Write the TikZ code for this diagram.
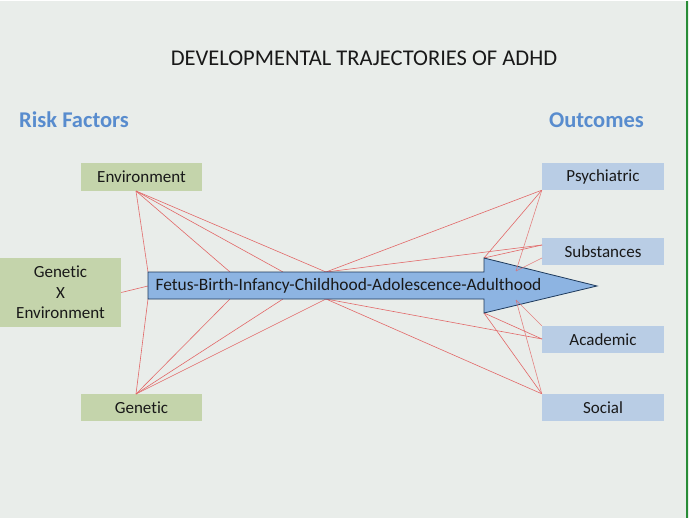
\documentclass[tikz,border=0pt]{standalone}
\usepackage{fontspec}
\setmainfont[Ligatures={NoCommon}]{Carlito}
\usepackage{tikz}
\usetikzlibrary{positioning}
\definecolor{slidebg}{RGB}{233,237,234}
\definecolor{riskgreen}{RGB}{196,212,171}
\definecolor{outblue}{RGB}{185,205,229}
\definecolor{headblue}{RGB}{88,140,206}
\definecolor{arrowfill}{RGB}{141,180,226}
\definecolor{arrowline}{RGB}{30,58,92}
\definecolor{linkred}{RGB}{226,104,104}
\definecolor{edgegreen}{RGB}{40,140,55}
\definecolor{textgrey}{RGB}{25,25,25}

\tikzset{
    riskbox/.style={fill=riskgreen, text=textgrey, minimum width=121pt, minimum height=27pt,
        inner sep=0pt, font=\fontsize{17}{20.5}\selectfont},
    outbox/.style={fill=outblue, text=textgrey, minimum width=122pt, minimum height=27pt,
        inner sep=0pt, font=\fontsize{17}{20.5}\selectfont},
    heading/.style={headblue, font=\fontsize{22.5}{26}\selectfont\bfseries},
    link/.style={linkred, line width=0.6pt},
}

\begin{document}
\begin{tikzpicture}[x=1pt, y=-1pt]
    \fill[slidebg] (0,0) rectangle (689,517);
    \draw[edgegreen, line width=2pt] (687,0) -- (687,517);

    % titles
    \node[textgrey, font=\fontsize{22.5}{26}\selectfont] (title) at (364,57) {DEVELOPMENTAL TRAJECTORIES OF ADHD};
    \node[heading, anchor=west, inner sep=0pt] (risk) at (19,119) {Risk Factors};
    \node[heading, inner sep=0pt] (outc) at (596.5,119) {Outcomes};

    % risk factors
    \node[riskbox] (env) at (141.5,176) {Environment};
    \node[riskbox, minimum height=69pt, align=center] (gxe) at (60.5,291.5) {Genetic\\X\\Environment};
    \node[riskbox] (gen) at (141.5,406.5) {Genetic};

    % outcomes
    \node[outbox] (psy) at (603,175.5) {Psychiatric};
    \node[outbox] (subst) at (603,250.5) {Substances};
    \node[outbox] (acad) at (603,338.5) {Academic};
    \node[outbox] (soc) at (603,406.5) {Social};

    % points where the lines meet
    \coordinate (envpt) at (136,190);
    \coordinate (genpt) at (136,393);
    \coordinate (bodyTL) at (148,271);
    \coordinate (bodyBL) at (148,298);
    \coordinate (bodyTR) at (484,271);
    \coordinate (bodyBR) at (484,298);
    \coordinate (headT) at (484,257);
    \coordinate (headB) at (484,312);
    \coordinate (tip) at (597,285);

    % lines from the left
    \draw[link] (gxe.east) -- (148,285);
    \foreach \x in {230,283,326} {
        \draw[link] (envpt) -- (\x,271);
        \draw[link] (genpt) -- (\x,298);
    }
    \draw[link] (envpt) -- (bodyTL);
    \draw[link] (genpt) -- (bodyBL);

    % lines to the right
    \draw[link] (326,271) -- (psy.south west);
    \draw[link] (326,271) -- (542,244);
    \draw[link] (headT) -- (psy.south west);
    \draw[link] (headT) -- (542,244);
    \draw[link] (326,298) -- (542,338);
    \draw[link] (326,298) -- (soc.north west);
    \draw[link] (headB) -- (542,338);
    \draw[link] (headB) -- (soc.north west);

    % the arrow
    \filldraw[fill=arrowfill, draw=arrowline, line width=0.8pt]
        (bodyTL) -- (bodyTR) -- (headT) -- (tip) -- (headB) -- (bodyBR) -- (bodyBL) -- cycle;
    \node[textgrey, anchor=west, font=\fontsize{17.4}{20}\selectfont] (stages) at (152,284.5)
        {Fetus-Birth-Infancy-Childhood-Adolescence-Adulthood};

    % lines that run into the head
    \draw[link, opacity=0.8] (516,270) -- (psy.south west);
    \draw[link, opacity=0.8] (516,270) -- (542,257);
    \draw[link, opacity=0.8] (516,299) -- (soc.north west);
    \draw[link, opacity=0.8] (516,299) -- (acad.north west);
\end{tikzpicture}
\end{document}
